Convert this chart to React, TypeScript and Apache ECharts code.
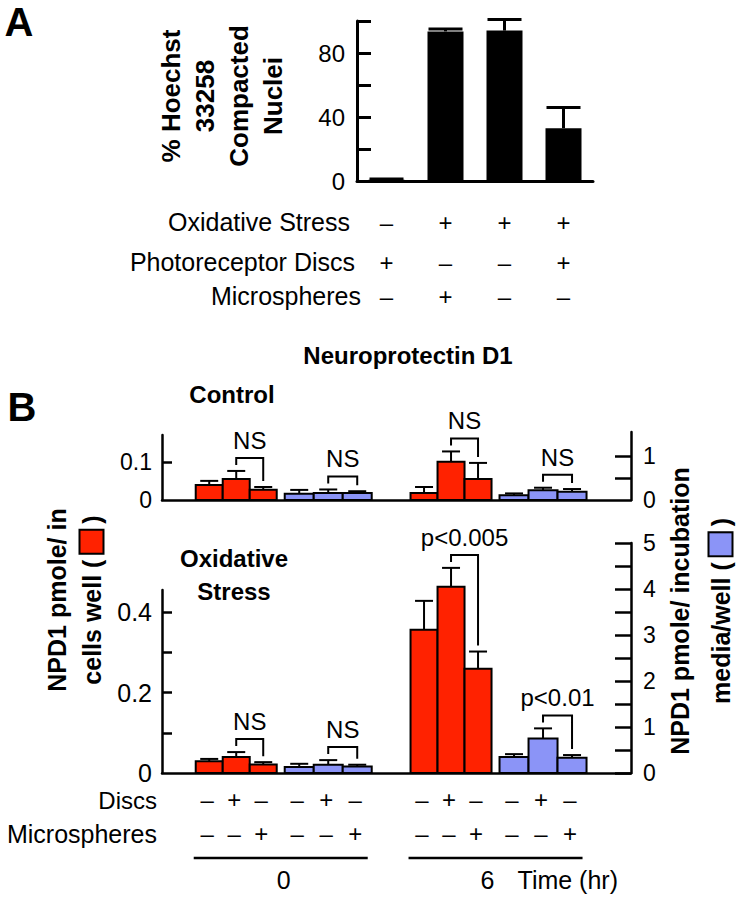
import React, { useEffect, useRef } from "react";
import * as echarts from "echarts";

// ---------- Panel A data ----------
const aConditions = ["Discs", "Stress + Microspheres", "Stress", "Stress + Discs"];
const aOxidativeStress = ["–", "+", "+", "+"];
const aDiscs = ["+", "–", "–", "+"];
const aMicrospheres = ["–", "+", "–", "–"];
const aCompacted = [0.8, 93.5, 94, 33];
const aCompactedErr = [0.4, 1.5, 7, 13];
const aTicksLabelled = [0, 40, 80];

// ---------- Panel B data ----------
const timesHr = [0, 6];
const discsSigns = ["–", "+", "–"];
const microSigns = ["–", "–", "+"];
// order: t0 (none, discs, microspheres), t6 (none, discs, microspheres)
const ctrlCells = [0.039, 0.055, 0.027, 0.018, 0.1, 0.055];
const ctrlCellsErr = [0.011, 0.021, 0.007, 0.016, 0.027, 0.042];
const ctrlMedia = [0.14, 0.16, 0.16, 0.11, 0.22, 0.19];
const ctrlMediaErr = [0.09, 0.08, 0.04, 0.04, 0.06, 0.06];
const oxCells = [0.029, 0.04, 0.021, 0.356, 0.463, 0.259];
const oxCellsErr = [0.006, 0.012, 0.006, 0.072, 0.047, 0.043];
const oxMedia = [0.13, 0.18, 0.14, 0.35, 0.75, 0.33];
const oxMediaErr = [0.07, 0.1, 0.04, 0.06, 0.22, 0.06];
const ctrlCellsSig = ["NS", "NS"];
const ctrlMediaSig = ["NS", "NS"];
const oxCellsSig = ["NS", "p<0.005"];
const oxMediaSig = ["NS", "p<0.01"];
const ctrlCellsTicks = [0.1];
const ctrlCellsLabels = [0, 0.1];
const ctrlMediaTicks = [0.5, 1];
const ctrlMediaLabels = [0, 1];
const oxCellsTicks = [0.1, 0.2, 0.3, 0.4];
const oxCellsLabels = [0, 0.2, 0.4];
const oxMediaLabels = [0, 1, 2, 3, 4, 5];

// ---------- styles ----------
const SANS = "'Liberation Sans', Arial, Helvetica, sans-serif";
const RED = "#ff2200";
const BLUE = "#8b94f7";
const INK = "#000";
const RED_W = 27;
const BLUE_W = 29;
const MID_GAP = 8;
const SLOT_W = [RED_W, RED_W, RED_W, BLUE_W, BLUE_W, BLUE_W];
const GROUP_W = 3 * RED_W + MID_GAP + 3 * BLUE_W;

function slotCenter(k: number) {
  let x = -GROUP_W / 2;
  for (let i = 0; i < k; i++) {
    x += SLOT_W[i];
    if (i === 2) x += MID_GAP;
  }
  return x + SLOT_W[k] / 2;
}

function txt(text: string, x: number, y: number, size: number, extra: any = {}) {
  const { bold, align, valign, family, rotation, lineHeight, rich } = extra;
  const el: any = {
    type: "text",
    x,
    y,
    rotation: rotation || 0,
    style: {
      text,
      fill: INK,
      fontSize: size,
      fontWeight: bold ? "bold" : "normal",
      fontFamily: family || SANS,
      textAlign: align || "center",
      align: align || "center",
      textVerticalAlign: valign || "middle",
      verticalAlign: valign || "middle",
      lineHeight: lineHeight || Math.round(size * 1.2),
    },
  };
  if (rich) el.style.rich = rich;
  return el;
}

function makeBarSeries(
  means: number[],
  errs: number[],
  sigs: string[],
  color: string,
  slotBase: number,
  xAxisIndex: number,
  yAxisIndex: number,
  withSigns: boolean
) {
  return {
    type: "custom",
    xAxisIndex,
    yAxisIndex,
    clip: false,
    encode: { x: 0, y: 2 },
    data: means.map((m, i) => [timesHr[Math.floor(i / 3)], i % 3, m, errs[i]]),
    renderItem: (params: any, api: any) => {
      const t = api.value(0);
      const k = api.value(1);
      const m = api.value(2);
      const e = api.value(3);
      const base = api.coord([t, 0]);
      const cx = base[0] + slotCenter(slotBase + k);
      const w = SLOT_W[slotBase + k];
      const yTop = api.coord([t, m])[1];
      const yCap = api.coord([t, m + e])[1];
      const children: any[] = [
        {
          type: "rect",
          shape: { x: cx - w / 2, y: yTop, width: w, height: base[1] - yTop },
          style: { fill: color, stroke: INK, lineWidth: 2 },
        },
        { type: "line", shape: { x1: cx, y1: yTop, x2: cx, y2: yCap }, style: { stroke: INK, lineWidth: 2 } },
        { type: "line", shape: { x1: cx - 9, y1: yCap, x2: cx + 9, y2: yCap }, style: { stroke: INK, lineWidth: 2 } },
      ];
      if (k === 1) {
        const i = params.dataIndex;
        const cx2 = base[0] + slotCenter(slotBase + 2);
        const yCap2 = api.coord([t, means[i + 1] + errs[i + 1]])[1];
        const top = Math.min(yCap, yCap2) - 13;
        children.push({
          type: "polyline",
          shape: { points: [[cx, yCap - 6], [cx, top], [cx2, top], [cx2, yCap2 - 6]] },
          style: { stroke: INK, lineWidth: 2, fill: "none" },
        });
        children.push(txt(sigs[Math.floor(i / 3)], (cx + cx2) / 2, top - 3, 24, { valign: "bottom" }));
      }
      if (withSigns) {
        children.push(txt(discsSigns[k], cx - 2, base[1] + 26, 24));
        children.push(txt(microSigns[k], cx - 2, base[1] + 60, 24));
      }
      return { type: "group", children };
    },
  };
}

function signAxis(signs: string[], name: string, offset: number, gap: number) {
  return {
    type: "category",
    gridIndex: 0,
    position: "bottom",
    offset,
    data: aConditions,
    axisLine: { show: false, onZero: false },
    axisTick: { show: false },
    splitLine: { show: false },
    axisLabel: {
      interval: 0,
      margin: 0,
      verticalAlign: "middle",
      formatter: (_v: string, i: number) => signs[i],
      fontSize: 24,
      fontFamily: SANS,
      color: INK,
    },
    name,
    nameLocation: "start",
    nameGap: gap,
    nameTextStyle: { fontSize: 25, fontFamily: SANS, color: INK, align: "right", verticalAlign: "middle" },
  };
}

const timeAxisBase = {
  type: "value",
  min: -3.4,
  max: 9.7,
  axisLabel: { show: false },
  axisTick: { show: false },
  splitLine: { show: false },
};

const axisLabelStyle = { color: INK, fontFamily: SANS, fontSize: 23 };
const yLine = { show: true, onZero: false, lineStyle: { color: INK, width: 2.5 } };

function buildOption(): any {
  const gridBase = { left: 162, right: 116, outerBoundsMode: "none", containLabel: false };
  return {
    animation: false,
    backgroundColor: "#fff",
    grid: [
      { left: 357, right: 154, top: 21, height: 160, outerBoundsMode: "none", containLabel: false },
      { ...gridBase, top: 435, height: 65 },
      { ...gridBase, top: 432, height: 68 },
      { ...gridBase, top: 590, height: 183 },
      { ...gridBase, top: 543, height: 230 },
    ],
    xAxis: [
      {
        type: "category",
        gridIndex: 0,
        data: aConditions,
        axisLine: { show: true, onZero: false, lineStyle: { color: INK, width: 3 } },
        axisTick: { show: false },
        axisLabel: { show: false },
      },
      signAxis(aOxidativeStress, "Oxidative Stress", 41, 7),
      signAxis(aDiscs, "Photoreceptor Discs", 81, 2),
      signAxis(aMicrospheres, "Microspheres", 115, -4),
      { ...timeAxisBase, gridIndex: 1, axisLine: { show: true, onZero: false, lineStyle: { color: INK, width: 2.5 } } },
      { ...timeAxisBase, gridIndex: 2, axisLine: { show: false, onZero: false } },
      { ...timeAxisBase, gridIndex: 3, axisLine: { show: true, onZero: false, lineStyle: { color: INK, width: 2.5 } } },
      { ...timeAxisBase, gridIndex: 4, axisLine: { show: false, onZero: false } },
    ],
    yAxis: [
      {
        type: "value",
        gridIndex: 0,
        min: 0,
        max: 100,
        interval: 20,
        axisLine: { show: true, onZero: false, lineStyle: { color: INK, width: 3 } },
        axisTick: { show: true, inside: true, length: 14, lineStyle: { color: INK, width: 3 } },
        axisLabel: {
          ...axisLabelStyle,
          fontSize: 24,
          margin: 12,
          formatter: (v: number) => (aTicksLabelled.indexOf(v) >= 0 ? String(v) : ""),
        },
        splitLine: { show: false },
      },
      {
        type: "value",
        gridIndex: 1,
        min: 0,
        max: 0.17,
        axisLine: yLine,
        axisTick: { show: true, inside: true, length: 10, customValues: ctrlCellsTicks, lineStyle: { color: INK, width: 2.5 } },
        axisLabel: { ...axisLabelStyle, margin: 10, customValues: ctrlCellsLabels },
        splitLine: { show: false },
      },
      {
        type: "value",
        gridIndex: 2,
        position: "right",
        min: 0,
        max: 1.55,
        axisLine: yLine,
        axisTick: { show: true, inside: true, length: 16, customValues: ctrlMediaTicks, lineStyle: { color: INK, width: 2.5 } },
        axisLabel: { ...axisLabelStyle, margin: 12, customValues: ctrlMediaLabels },
        splitLine: { show: false },
      },
      {
        type: "value",
        gridIndex: 3,
        min: 0,
        max: 0.455,
        axisLine: yLine,
        axisTick: { show: true, inside: true, length: 10, customValues: oxCellsTicks, lineStyle: { color: INK, width: 2.5 } },
        axisLabel: { ...axisLabelStyle, fontSize: 25, margin: 10, customValues: oxCellsLabels },
        splitLine: { show: false },
      },
      {
        type: "value",
        gridIndex: 4,
        position: "right",
        min: 0,
        max: 5,
        interval: 0.5,
        axisLine: yLine,
        axisTick: { show: true, inside: true, length: 16, lineStyle: { color: INK, width: 2.5 } },
        axisLabel: { ...axisLabelStyle, margin: 12, customValues: oxMediaLabels },
        splitLine: { show: false },
      },
    ],
    series: [
      {
        type: "bar",
        xAxisIndex: 0,
        yAxisIndex: 0,
        data: aCompacted,
        barWidth: 36,
        itemStyle: { color: INK },
      },
      {
        type: "custom",
        xAxisIndex: 0,
        yAxisIndex: 0,
        clip: false,
        encode: { x: 0, y: 1 },
        data: aCompacted.map((v, i) => [i, v, aCompactedErr[i]]),
        renderItem: (_p: any, api: any) => {
          const i = api.value(0);
          const v = api.value(1);
          const e = api.value(2);
          const p0 = api.coord([i, v]);
          const p1 = api.coord([i, v + e]);
          return {
            type: "group",
            children: [
              { type: "line", shape: { x1: p0[0], y1: p0[1], x2: p1[0], y2: p1[1] }, style: { stroke: INK, lineWidth: 3 } },
              { type: "line", shape: { x1: p0[0] - 17, y1: p1[1], x2: p0[0] + 17, y2: p1[1] }, style: { stroke: INK, lineWidth: 3 } },
            ],
          };
        },
      },
      makeBarSeries(ctrlCells, ctrlCellsErr, ctrlCellsSig, RED, 0, 4, 1, false),
      makeBarSeries(ctrlMedia, ctrlMediaErr, ctrlMediaSig, BLUE, 3, 5, 2, false),
      makeBarSeries(oxCells, oxCellsErr, oxCellsSig, RED, 0, 6, 3, true),
      makeBarSeries(oxMedia, oxMediaErr, oxMediaSig, BLUE, 3, 7, 4, true),
      {
        type: "custom",
        xAxisIndex: 6,
        yAxisIndex: 3,
        clip: false,
        encode: { x: 0, y: 1 },
        data: timesHr.map((t) => [t, 0]),
        renderItem: (_p: any, api: any) => {
          const t = api.value(0);
          const b = api.coord([t, 0]);
          const children: any[] = [
            {
              type: "line",
              shape: { x1: b[0] - GROUP_W / 2 - 2, y1: b[1] + 85, x2: b[0] + GROUP_W / 2 - 4, y2: b[1] + 85 },
              style: { stroke: INK, lineWidth: 2.5 },
            },
          ];
          if (t === 0) {
            children.push(txt(String(t), b[0], b[1] + 107, 25));
          } else {
            children.push(txt(String(t), b[0] - 11, b[1] + 107, 25));
            children.push(txt("Time (hr)", b[0] + 19, b[1] + 107, 25, { align: "left" }));
          }
          return { type: "group", children };
        },
      },
    ],
    graphic: [
      txt("A", 19, 22, 40, { bold: true }),
      txt("B", 22, 407, 40, { bold: true }),
      txt("% Hoechst\n33258\nCompacted\nNuclei", 222, 96, 26, { bold: true, rotation: Math.PI / 2, lineHeight: 34 }),
      txt("Neuroprotectin D1", 408, 355, 24, { bold: true }),
      txt("Control", 232, 394, 24, { bold: true }),
      txt("Oxidative\nStress", 234, 575, 24, { bold: true, lineHeight: 33 }),
      txt("NPD1 pmole/ in\ncells well ( {r| } )", 74, 600, 25, {
        bold: true,
        rotation: Math.PI / 2,
        lineHeight: 35,
        rich: { r: { width: 22, height: 22, backgroundColor: RED, borderColor: INK, borderWidth: 2 } },
      }),
      txt("NPD1 pmole/ incubation\nmedia/well ( {b| } )", 700, 611, 25, {
        bold: true,
        rotation: Math.PI / 2,
        lineHeight: 41,
        rich: { b: { width: 22, height: 22, backgroundColor: BLUE, borderColor: INK, borderWidth: 2 } },
      }),
      txt("Discs", 157, 800, 24, { align: "right" }),
      txt("Microspheres", 157, 834, 25, { align: "right" }),
    ],
  };
}

export default function App() {
  const ref = useRef<HTMLDivElement>(null);
  useEffect(() => {
    if (!ref.current) return;
    const chart = echarts.init(ref.current, undefined, { renderer: "svg" });
    chart.setOption(buildOption());
    return () => chart.dispose();
  }, []);
  return (
    <div
      ref={ref}
      style={{ position: "absolute", left: 0, top: 0, width: 747, height: 898, background: "#fff" }}
    />
  );
}
